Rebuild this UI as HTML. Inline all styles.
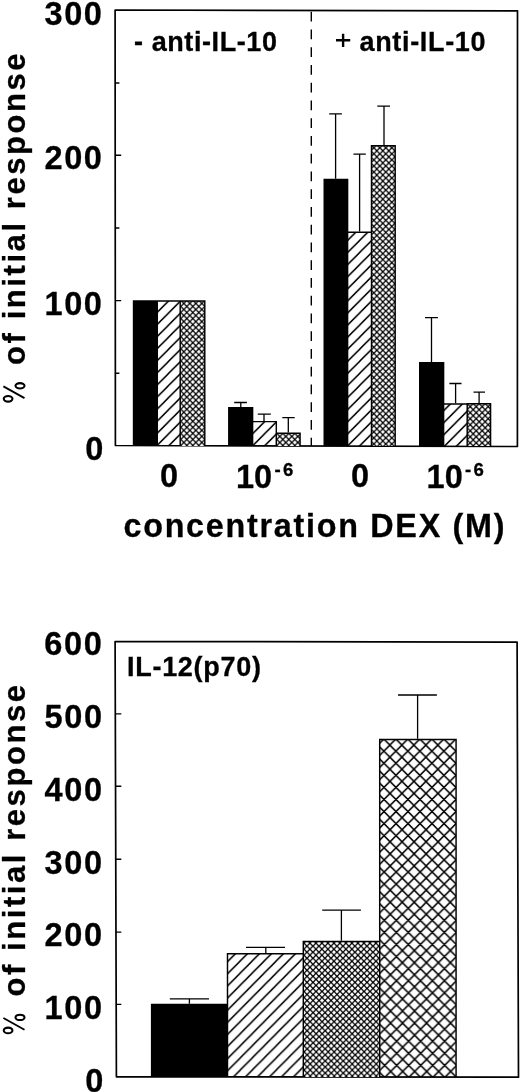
<!DOCTYPE html>
<html><head><meta charset="utf-8"><style>
html,body{margin:0;padding:0;background:#fff;width:520px;height:1092px;overflow:hidden}
svg{display:block;will-change:transform}
text{font-family:"Liberation Sans",sans-serif;font-weight:bold;fill:#000;stroke:#000;stroke-width:0.3px}
</style></head><body>
<svg width="520" height="1092" viewBox="0 0 520 1092">
<defs>
<pattern id="h1" patternUnits="userSpaceOnUse" width="12" height="12" patternTransform="matrix(1,0,0.0,1.0073,0,301.500)"><path d="M-3,3 L3,-3 M0,12 L12,0 M9,15 L15,9" stroke="#000" stroke-width="1.5" fill="none"/></pattern>
<pattern id="h2" patternUnits="userSpaceOnUse" width="12" height="12" patternTransform="matrix(1,0,0.0,1.0073,0,422.300)"><path d="M-3,3 L3,-3 M0,12 L12,0 M9,15 L15,9" stroke="#000" stroke-width="1.5" fill="none"/></pattern>
<pattern id="h3" patternUnits="userSpaceOnUse" width="12" height="12" patternTransform="matrix(1,0,0.0,1.0073,0,228.000)"><path d="M-3,3 L3,-3 M0,12 L12,0 M9,15 L15,9" stroke="#000" stroke-width="1.5" fill="none"/></pattern>
<pattern id="h4" patternUnits="userSpaceOnUse" width="12" height="12" patternTransform="matrix(1,0,0.0,1.0073,0,398.300)"><path d="M-3,3 L3,-3 M0,12 L12,0 M9,15 L15,9" stroke="#000" stroke-width="1.5" fill="none"/></pattern>
<pattern id="h5" patternUnits="userSpaceOnUse" width="12" height="12" patternTransform="matrix(1,0,0.0026,1.0073,0,949.100)"><path d="M-3,3 L3,-3 M0,12 L12,0 M9,15 L15,9" stroke="#000" stroke-width="1.5" fill="none"/></pattern>
<pattern id="xh" patternUnits="userSpaceOnUse" width="12" height="12" patternTransform="matrix(1,0,0.0026,1.0073,5.8,733.000)"><path d="M-3,3 L3,-3 M0,12 L12,0 M9,15 L15,9 M-3,9 L3,15 M0,0 L12,12 M9,-3 L15,3" stroke="#000" stroke-width="1.5" fill="none"/></pattern>
<pattern id="d1" patternUnits="userSpaceOnUse" width="6" height="6" patternTransform="matrix(1,0,0.0,1.0073,0.8,297.400)"><rect width="6" height="6" fill="#000"/><g fill="#fff"><path d="M-2.05,0 L0,-2.05 L2.05,0 L0,2.05 Z"/><path d="M3.95,0 L6,-2.05 L8.05,0 L6,2.05 Z"/><path d="M-2.05,6 L0,3.95 L2.05,6 L0,8.05 Z"/><path d="M3.95,6 L6,3.95 L8.05,6 L6,8.05 Z"/><path d="M0.9500000000000002,3 L3,0.9500000000000002 L5.05,3 L3,5.05 Z"/></g></pattern>
<pattern id="d2" patternUnits="userSpaceOnUse" width="6" height="6" patternTransform="matrix(1,0,0.0,1.0073,0.8,430.400)"><rect width="6" height="6" fill="#000"/><g fill="#fff"><path d="M-2.05,0 L0,-2.05 L2.05,0 L0,2.05 Z"/><path d="M3.95,0 L6,-2.05 L8.05,0 L6,2.05 Z"/><path d="M-2.05,6 L0,3.95 L2.05,6 L0,8.05 Z"/><path d="M3.95,6 L6,3.95 L8.05,6 L6,8.05 Z"/><path d="M0.9500000000000002,3 L3,0.9500000000000002 L5.05,3 L3,5.05 Z"/></g></pattern>
<pattern id="d3" patternUnits="userSpaceOnUse" width="6" height="6" patternTransform="matrix(1,0,0.0,1.0073,1.8,144.800)"><rect width="6" height="6" fill="#000"/><g fill="#fff"><path d="M-2.05,0 L0,-2.05 L2.05,0 L0,2.05 Z"/><path d="M3.95,0 L6,-2.05 L8.05,0 L6,2.05 Z"/><path d="M-2.05,6 L0,3.95 L2.05,6 L0,8.05 Z"/><path d="M3.95,6 L6,3.95 L8.05,6 L6,8.05 Z"/><path d="M0.9500000000000002,3 L3,0.9500000000000002 L5.05,3 L3,5.05 Z"/></g></pattern>
<pattern id="d4" patternUnits="userSpaceOnUse" width="6" height="6" patternTransform="matrix(1,0,0.0,1.0073,2.2,403.600)"><rect width="6" height="6" fill="#000"/><g fill="#fff"><path d="M-2.05,0 L0,-2.05 L2.05,0 L0,2.05 Z"/><path d="M3.95,0 L6,-2.05 L8.05,0 L6,2.05 Z"/><path d="M-2.05,6 L0,3.95 L2.05,6 L0,8.05 Z"/><path d="M3.95,6 L6,3.95 L8.05,6 L6,8.05 Z"/><path d="M0.9500000000000002,3 L3,0.9500000000000002 L5.05,3 L3,5.05 Z"/></g></pattern>
<pattern id="d5" patternUnits="userSpaceOnUse" width="6" height="6" patternTransform="matrix(1,0,0.0026,1.0073,0.9,943.100)"><rect width="6" height="6" fill="#000"/><g fill="#fff"><path d="M-2.05,0 L0,-2.05 L2.05,0 L0,2.05 Z"/><path d="M3.95,0 L6,-2.05 L8.05,0 L6,2.05 Z"/><path d="M-2.05,6 L0,3.95 L2.05,6 L0,8.05 Z"/><path d="M3.95,6 L6,3.95 L8.05,6 L6,8.05 Z"/><path d="M0.9500000000000002,3 L3,0.9500000000000002 L5.05,3 L3,5.05 Z"/></g></pattern>
</defs>
<g stroke="#000" fill="none">
<path d="M115.1,10.0 L517.5,10.8 L517.4,446.5 L115.4,445.5 Z" stroke-width="1.7" stroke-linejoin="round"/>
<path d="M115.5,82.9 H119.4 M115.5,228 H119.4 M115.5,373.3 H119.4" stroke-width="1.5"/>
<path d="M115.5,155.3 H121.2 M115.5,300.6 H121.2" stroke-width="1.4"/>
<line x1="311.3" y1="11.7" x2="311.3" y2="446" stroke-width="1.4" stroke-dasharray="9.8 7.95"/>
</g>
<rect x="133.53" y="301.03" width="23.78" height="144.97" fill="#000"/>
<rect x="157.30" y="301.03" width="22.90" height="144.97" fill="url(#h1)"/>
<rect x="180.20" y="301.03" width="24.58" height="144.97" fill="url(#d1)"/>
<rect x="228.82" y="407.73" width="23.78" height="38.27" fill="#000"/>
<rect x="252.60" y="421.62" width="23.70" height="24.38" fill="url(#h2)"/>
<rect x="276.30" y="433.33" width="23.77" height="12.67" fill="url(#d2)"/>
<rect x="324.23" y="179.53" width="23.38" height="266.48" fill="#000"/>
<rect x="347.60" y="232.22" width="23.90" height="213.78" fill="url(#h3)"/>
<rect x="371.50" y="145.72" width="23.67" height="300.27" fill="url(#d3)"/>
<rect x="419.73" y="362.62" width="23.88" height="83.38" fill="#000"/>
<rect x="443.60" y="404.03" width="23.60" height="41.97" fill="url(#h4)"/>
<rect x="467.20" y="403.83" width="23.38" height="42.17" fill="url(#d4)"/>
<path d="M133.53,446.00 V301.03 H157.30 V446.00 M157.30,446.00 V301.03 H180.20 V446.00 M180.20,446.00 V301.03 H204.78 V446.00 M228.82,446.00 V407.73 H252.60 V446.00 M252.60,446.00 V421.62 H276.30 V446.00 M276.30,446.00 V433.33 H300.07 V446.00 M324.23,446.00 V179.53 H347.60 V446.00 M347.60,446.00 V232.22 H371.50 V446.00 M371.50,446.00 V145.72 H395.17 V446.00 M419.73,446.00 V362.62 H443.60 V446.00 M443.60,446.00 V404.03 H467.20 V446.00 M467.20,446.00 V403.83 H490.57 V446.00" fill="none" stroke="#000" stroke-width="1.45"/>
<g stroke="#000" stroke-width="1.3" fill="none">
<path d="M240.8,407.0 V402.5 M234.2,402.5 H246.9"/>
<path d="M264.0,420.9 V414.2 M257.8,414.2 H270.8"/>
<path d="M288.3,432.6 V417.7 M282.3,417.7 H294.7"/>
<path d="M335.6,178.8 V113.8 M329.2,113.8 H341.9"/>
<path d="M359.6,231.5 V154.2 M353.5,154.2 H365.8"/>
<path d="M384.0,145.0 V106.2 M377.3,106.2 H390.0"/>
<path d="M431.5,361.9 V317.7 M425.0,317.7 H437.9"/>
<path d="M455.6,403.3 V383.5 M449.4,383.5 H461.5"/>
<path d="M479.1,403.1 V392.1 M473.5,392.1 H485.0"/>
</g>
<g font-size="32.5" text-anchor="end" letter-spacing="1.6">
<text x="103.5" y="24.5">300</text>
<text x="103.5" y="169.3">200</text>
<text x="103.5" y="314.8">100</text>
<text x="105" y="460.2">0</text>
</g>
<text x="134" y="50.8" font-size="27" textLength="143" lengthAdjust="spacing">- anti-IL-10</text>
<path d="M336,40.3 H350.2 M343.1,33.8 V46.9" stroke="#000" stroke-width="2.4" fill="none"/>
<text x="359.5" y="50.8" font-size="27" textLength="126" lengthAdjust="spacing">anti-IL-10</text>
<g font-size="32.5">
<text x="169" y="487.3" text-anchor="middle">0</text>
<text x="236" y="487.6">10</text>
<text x="274.4" y="475.9" font-size="18.6" letter-spacing="2.3">-6</text>
<text x="360" y="487.3" text-anchor="middle">0</text>
<text x="426.6" y="487.6">10</text>
<text x="464.9" y="475.9" font-size="18.6" letter-spacing="2.3">-6</text>
</g>
<text x="123.5" y="536.6" font-size="32.3" textLength="381" lengthAdjust="spacing">concentration DEX (M)</text>
<text transform="translate(25,209.15) rotate(-90)" font-size="31" text-anchor="middle" textLength="311.5" lengthAdjust="spacing">of initial response</text>
<g fill="none" stroke="#000" stroke-width="2.1"><ellipse cx="8.1" cy="398.8" rx="4.35" ry="2.8"/><ellipse cx="20" cy="385.8" rx="4.5" ry="2.65"/><path d="M3.4,386.4 L24.5,398.1" stroke-width="1.8"/></g>
<g stroke="#000" fill="none">
<path d="M115.1,641.5 L517.1,642.1 L518.5,1077.2 L116.4,1076.8 Z" stroke-width="1.7" stroke-linejoin="round"/>
<path d="M115.5,713.9 H121.3 M115.6,786.3 H121.3 M115.8,859.2 H121.3 M116,932.1 H121.3 M116.1,1004.4 H121.3" stroke-width="1.4"/>
</g>
<rect x="151.62" y="1004.43" width="75.88" height="72.57" fill="#000"/>
<rect x="227.50" y="953.73" width="75.80" height="123.27" fill="url(#h5)"/>
<rect x="303.30" y="941.52" width="76.40" height="135.48" fill="url(#d5)"/>
<rect x="379.70" y="739.52" width="76.38" height="337.48" fill="url(#xh)"/>
<path d="M151.62,1077.00 V1004.43 H227.50 V1077.00 M227.50,1077.00 V953.73 H303.30 V1077.00 M303.30,1077.00 V941.52 H379.70 V1077.00 M379.70,1077.00 V739.52 H456.07 V1077.00" fill="none" stroke="#000" stroke-width="1.45"/>
<g stroke="#000" stroke-width="1.3" fill="none">
<path d="M189.4,1003.7 V998.8 M169.8,998.8 H209.0"/>
<path d="M265.8,953.0 V947.3 M246.0,947.3 H285.0"/>
<path d="M341.4,940.8 V910.1 M322.2,910.1 H360.9"/>
<path d="M417.6,738.8 V695.0 M398.0,695.0 H436.9"/>
</g>
<g font-size="32.5" text-anchor="end" letter-spacing="1.6">
<text x="103.4" y="655.4">600</text>
<text x="103.6" y="728.2">500</text>
<text x="103.6" y="800.9">400</text>
<text x="103.6" y="873.7">300</text>
<text x="103.6" y="946.4">200</text>
<text x="103.6" y="1019.2">100</text>
<text x="105" y="1091.5">0</text>
</g>
<text x="127" y="676.1" font-size="27" textLength="134" lengthAdjust="spacing">IL-12(p70)</text>
<text transform="translate(25,840.75) rotate(-90)" font-size="31" text-anchor="middle" textLength="311.5" lengthAdjust="spacing">of initial response</text>
<g fill="none" stroke="#000" stroke-width="2.1" transform="translate(0,631.6)"><ellipse cx="8.1" cy="398.8" rx="4.35" ry="2.8"/><ellipse cx="20" cy="385.8" rx="4.5" ry="2.65"/><path d="M3.4,386.4 L24.5,398.1" stroke-width="1.8"/></g>
</svg>
</body></html>
